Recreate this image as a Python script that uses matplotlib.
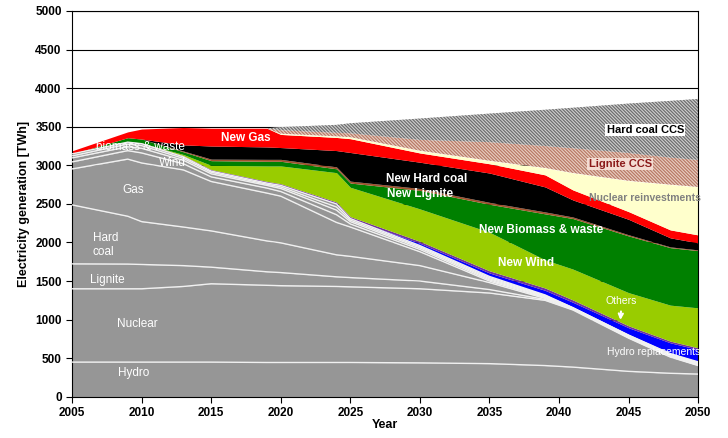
import numpy as np
import matplotlib.pyplot as plt

plt.rcParams['font.family'] = ['Liberation Sans', 'DejaVu Sans']

years = [2005, 2009, 2010, 2013, 2015, 2019, 2020, 2024, 2025, 2030, 2035, 2039, 2041, 2045, 2048, 2050]

# existing plants (grey), TWh
hydro = [450, 450, 450, 450, 450, 445, 445, 445, 445, 440, 430, 405, 385, 330, 305, 295]
nuclear = [950, 950, 950, 980, 1015, 1000, 995, 985, 980, 960, 915, 845, 740, 430, 210, 110]
lignite = [323, 320, 315, 270, 215, 175, 170, 125, 120, 100, 45, 12, 10, 8, 7, 6]
hard_coal = [764, 620, 555, 500, 470, 400, 385, 285, 275, 200, 90, 13, 5, 8, 7, 6]
gas = [466, 740, 760, 740, 640, 620, 605, 420, 380, 180, 20, 10, 5, 8, 7, 6]
oil = [91, 110, 130, 80, 60, 65, 60, 100, 40, 30, 15, 10, 3, 5, 6, 6]
wind = [52, 50, 60, 45, 40, 35, 40, 60, 30, 20, 15, 10, 3, 5, 6, 8]
biomass = [26, 35, 35, 25, 20, 15, 20, 40, 20, 15, 15, 8, 2, 3, 6, 8]
other_old = [26, 25, 25, 20, 15, 15, 20, 40, 20, 15, 15, 7, 2, 3, 6, 8]

# new investments
hydro_repl = [0, 0, 0, 0, 0, 0, 0, 0, 0, 30, 45, 60, 70, 95, 140, 160]
others_new = [0, 8, 10, 15, 20, 22, 22, 25, 25, 25, 28, 30, 30, 25, 22, 22]
new_wind = [0, 0, 0, 15, 55, 200, 230, 380, 380, 420, 500, 365, 400, 430, 466, 518]
new_biomass = [0, 50, 50, 35, 60, 60, 60, 50, 55, 240, 362, 596, 655, 735, 745, 741]
new_lignite = [0, 0, 0, 10, 20, 25, 25, 25, 25, 25, 25, 25, 20, 15, 10, 10]
new_hard_coal = [0, 0, 0, 80, 170, 161, 153, 211, 371, 340, 380, 324, 221, 200, 117, 91]
new_gas = [40, 75, 130, 225, 230, 242, 170, 170, 179, 120, 120, 156, 130, 100, 103, 103]
nuclear_reinv = [0, 0, 0, 0, 0, 0, 10, 15, 20, 30, 40, 90, 220, 400, 587, 622]
lignite_ccs = [0, 0, 0, 0, 0, 0, 45, 45, 50, 140, 240, 284, 320, 360, 350, 350]
hard_coal_ccs = [0, 0, 0, 0, 0, 0, 40, 103, 130, 276, 370, 470, 525, 640, 735, 790]

grey_layers = [hydro, nuclear, lignite, hard_coal, gas, oil, wind, biomass, other_old]
new_layers = [
    (hydro_repl, "#0000ff", None, None),
    (others_new, "#7030a0", None, None),
    (new_wind, "#99cc00", None, None),
    (new_biomass, "#008000", None, None),
    (new_lignite, "#a0522d", None, None),
    (new_hard_coal, "#000000", None, None),
    (new_gas, "#ff0000", None, None),
    (nuclear_reinv, "#ffffcc", None, None),
    (lignite_ccs, "#ead0c4", "#b87a66", "\\" * 10),
    (hard_coal_ccs, "#d0d0d0", "#6e6e6e", "\\" * 10),
]

plt.rcParams['hatch.linewidth'] = 0.9
fig = plt.figure(figsize=(7.28, 4.38), dpi=100)
ax = fig.add_axes([0.099, 0.094, 0.860, 0.881])

x = np.array(years)
base = np.zeros(len(years))
grey_tops = []
for layer in grey_layers:
    top = base + np.array(layer)
    ax.fill_between(x, base, top, color="#969696", lw=0, zorder=2)
    grey_tops.append(top)
    base = top
for top in grey_tops:
    ax.plot(x, top, color="#f0f0f0", lw=1.0, zorder=3)

for values, color, hcolor, hatch in new_layers:
    top = base + np.array(values)
    if hatch:
        ax.fill_between(x, base, top, facecolor=color, edgecolor=hcolor,
                        hatch=hatch, lw=0, zorder=2)
    else:
        ax.fill_between(x, base, top, color=color, lw=0, zorder=2)
    base = top

# labels in the areas
w = dict(color="white", fontsize=8.5, zorder=5)
ax.text(2009.9, 3237, "biomass & waste", ha="center", va="center", **w)
ax.text(2012.2, 3030, "Wind", ha="center", va="center", **w)
ax.text(2009.4, 2680, "Gas", ha="center", va="center", **w)
ax.text(2006.5, 1968, "Hard\ncoal", ha="left", va="center", linespacing=1.3, **w)
ax.text(2006.3, 1515, "Lignite", ha="left", va="center", **w)
ax.text(2009.7, 945, "Nuclear", ha="center", va="center", **w)
ax.text(2009.4, 310, "Hydro", ha="center", va="center", **w)

b = dict(color="white", fontsize=8.5, fontweight="bold", zorder=5)
ax.text(2017.5, 3354, "New Gas", ha="center", va="center", **b)
ax.text(2030.5, 2823, "New Hard coal", ha="center", va="center", **b)
ax.text(2030.0, 2629, "New Lignite", ha="center", va="center", **b)
ax.text(2038.7, 2163, "New Biomass & waste", ha="center", va="center", **b)
ax.text(2037.6, 1735, "New Wind", ha="center", va="center", **b)
ax.annotate("Others", xy=(2044.4, 960), xytext=(2044.5, 1243),
            ha="center", va="center", color="white", fontsize=7.5, zorder=5,
            arrowprops=dict(arrowstyle="->", color="white", lw=1.5))
ax.text(2046.8, 583, "Hydro replacements", ha="center", va="center",
        color="white", fontsize=7.5, zorder=5)

ax.text(2046.2, 3458, "Hard coal CCS", ha="center", va="center", color="black",
        fontsize=8, fontweight="bold", zorder=5,
        bbox=dict(facecolor="white", edgecolor="none", pad=1))
ax.text(2044.4, 3017, "Lignite CCS", ha="center", va="center", color="#8b1a1a",
        fontsize=8, fontweight="bold", zorder=5,
        bbox=dict(facecolor="#f4dcd2", edgecolor="none", pad=1))
ax.text(2046.2, 2577, "Nuclear reinvestments", ha="center", va="center",
        color="#808080", fontsize=7.5, fontweight="bold", zorder=5)

ax.set_xlim(2005, 2050)
ax.set_ylim(0, 5000)
ax.set_xticks(range(2005, 2051, 5))
ax.set_yticks(range(0, 5001, 500))
ax.yaxis.grid(True, color="black", lw=0.8)
ax.set_axisbelow(True)
ax.tick_params(direction="out", length=4, labelsize=8.5)
for lab in ax.get_xticklabels() + ax.get_yticklabels():
    lab.set_fontweight("bold")
for s in ax.spines.values():
    s.set_color("black")
ax.set_xlabel("Year", fontsize=9, fontweight="bold", labelpad=0)
ax.set_ylabel("Electricity generation [TWh]", fontsize=9, fontweight="bold", labelpad=4)

fig.savefig("out.png", dpi=100)
